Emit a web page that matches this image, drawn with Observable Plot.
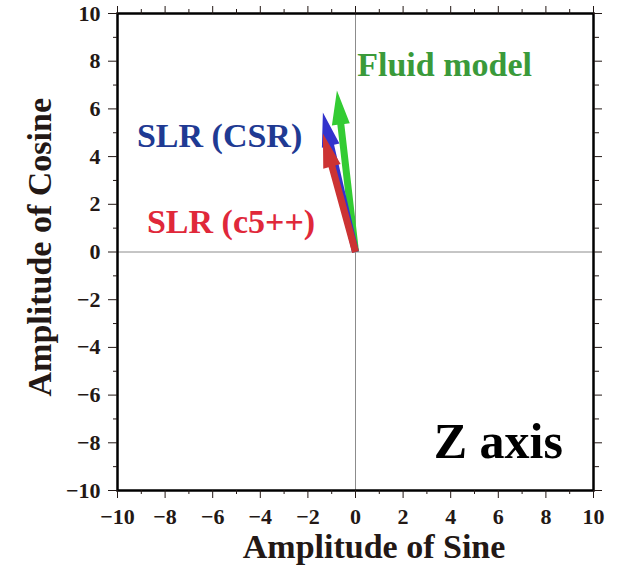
<!DOCTYPE html>
<html>
<head>
<meta charset="utf-8">
<script src="https://cdn.jsdelivr.net/npm/d3@7"></script>
<script src="https://cdn.jsdelivr.net/npm/@observablehq/plot@0.6"></script>
<style>
  body { margin: 0; background: #fff; }
</style>
</head>
<body>
<div id="chart"></div>
<script>
// Annual-term amplitudes (sine, cosine) of the Z-axis component
const components = ["Fluid model", "SLR (CSR)", "SLR (c5++)"];
const sineAmplitude = [-0.78, -1.37, -1.37];
const cosineAmplitude = [6.77, 5.85, 4.97];
const arrowColors = ["#33cc33", "#3333cc", "#cc3333"];
const textColors = ["#3a9a3a", "#1f3a93", "#e0283a"];
const majorTicks = d3.range(-10, 11, 2);
const minorTicks = d3.range(-9, 10, 2);
const panelTitle = "Z axis";
const xTitle = "Amplitude of Sine";
const yTitle = "Amplitude of Cosine";

// Label anchors (data units) for each component
const labelSpots = [
  {x: 0.07, y: 7.4, anchor: "start"},
  {x: -5.71, y: 4.42, anchor: "middle"},
  {x: -5.23, y: 0.78, anchor: "middle"}
];

const W = 619, H = 569;
const margin = {top: 13, right: 26, bottom: 79, left: 117};
const unit = (W - margin.left - margin.right) / 20; // pixels per data unit

// Filled arrow (shaft + triangular head) from the origin to (x, y), in data units
function arrowPolygon(x, y) {
  const len = Math.hypot(x, y);
  const ux = x / len, uy = y / len;
  const nx = -uy, ny = ux;
  const w = 3.5 / unit, hl = 34 / unit, hw = 9 / unit;
  const bx = ux * (len - hl), by = uy * (len - hl);
  return [
    {x: nx * w, y: ny * w},
    {x: bx + nx * w, y: by + ny * w},
    {x: bx + nx * hw, y: by + ny * hw},
    {x: x, y: y},
    {x: bx - nx * hw, y: by - ny * hw},
    {x: bx - nx * w, y: by - ny * w},
    {x: -nx * w, y: -ny * w}
  ];
}

const ink = "#231815";
const font = "'Liberation Serif', 'DejaVu Serif', serif";

const arrows = components.map((name, i) =>
  Plot.line(arrowPolygon(sineAmplitude[i], cosineAmplitude[i]), {
    x: "x", y: "y", fill: arrowColors[i], stroke: "none", curve: "linear-closed"
  })
);

const labels = components.map((name, i) =>
  Plot.text([name], {
    x: labelSpots[i].x, y: labelSpots[i].y, fill: textColors[i],
    textAnchor: labelSpots[i].anchor, lineAnchor: "bottom", fontSize: 34, fontWeight: "bold"
  })
);

// tick-only axis (no labels)
const ticksX = (values, anchor, size) =>
  Plot.axisX(values, {anchor, tickSize: size, stroke: ink, fill: "none", label: null});
const ticksY = (values, anchor, size) =>
  Plot.axisY(values, {anchor, tickSize: size, stroke: ink, fill: "none", label: null});

const chart = Plot.plot({
  width: W,
  height: H,
  marginTop: margin.top,
  marginRight: margin.right,
  marginBottom: margin.bottom,
  marginLeft: margin.left,
  style: {fontFamily: font, fontWeight: "bold", fontSize: "22px", color: ink, background: "#fff"},
  x: {domain: [-10, 10], label: null},
  y: {domain: [-10, 10], label: null},
  marks: [
    Plot.ruleX([0], {stroke: "#8c8c8c", strokeWidth: 1}),
    Plot.ruleY([0], {stroke: "#8c8c8c", strokeWidth: 1}),
    ...arrows,
    Plot.frame({stroke: "#000", strokeWidth: 2.5}),
    // bottom
    ticksX(minorTicks, "bottom", 4),
    Plot.axisX(majorTicks, {anchor: "bottom", tickSize: 8, tickPadding: 10, stroke: ink, fill: ink, fontSize: 22, fontWeight: "bold", label: null}),
    // top
    ticksX(majorTicks, "top", 8),
    ticksX(minorTicks, "top", 5),
    // left
    ticksY(minorTicks, "left", 4),
    Plot.axisY(majorTicks, {anchor: "left", tickSize: 9, tickPadding: 8, stroke: ink, fill: ink, fontSize: 22, fontWeight: "bold", label: null}),
    // right
    ticksY(majorTicks, "right", 8),
    ticksY(minorTicks, "right", 5),
    // component labels
    ...labels,
    Plot.text([panelTitle], {x: 6.0, y: -8.62, lineAnchor: "bottom", fontSize: 50, fontWeight: "bold", fill: "#000"}),
    // axis titles
    Plot.text([xTitle], {x: 0.78, y: -12.85, lineAnchor: "bottom", fontSize: 34, fontWeight: "bold", fill: ink}),
    Plot.text([yTitle], {x: -12.8, y: 0.2, rotate: -90, lineAnchor: "bottom", fontSize: 34, fontWeight: "bold", fill: ink})
  ]
});

document.getElementById("chart").appendChild(chart);
</script>
</body>
</html>
